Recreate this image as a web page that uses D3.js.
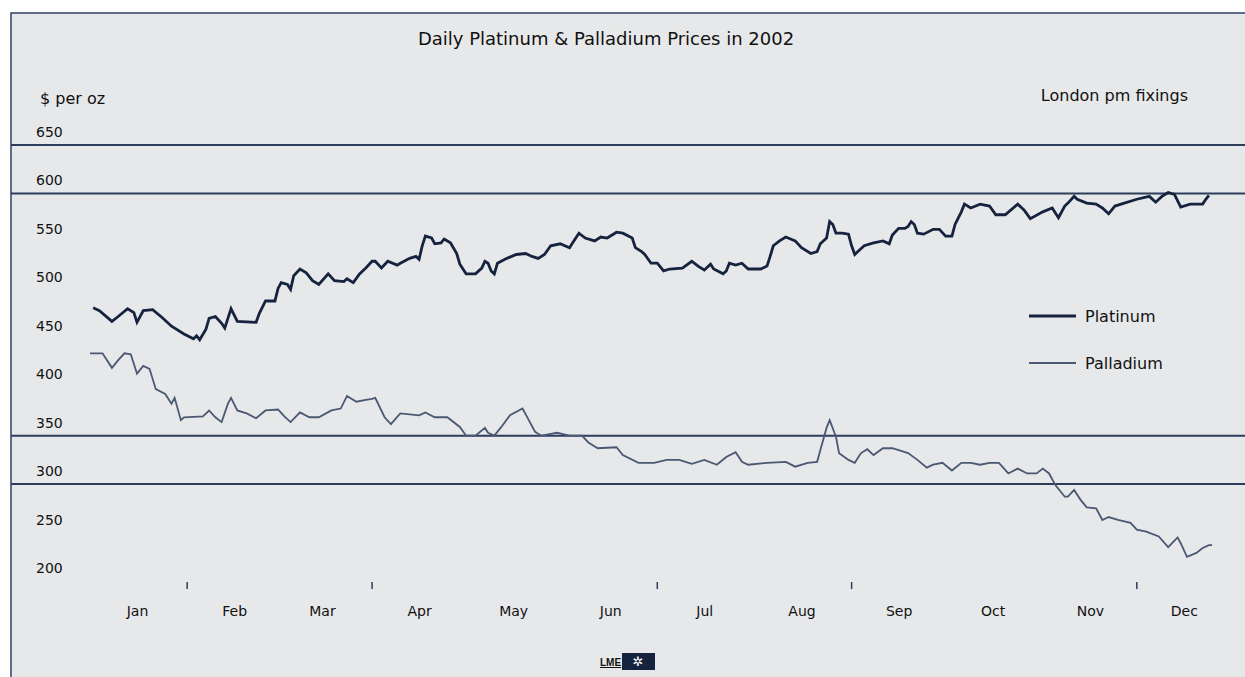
<!DOCTYPE html>
<html>
<head>
<meta charset="utf-8">
<script src="https://cdn.jsdelivr.net/npm/d3@7"></script>
<style>
	body { margin: 0; background: #fff; }
	svg text { font-family: "DejaVu Sans", Arial, sans-serif; fill: #111; }
</style>
</head>
<body>
<div id="chart"></div>
<script>
// values, $ per oz, London pm fixings 2002
var platDates = ['01-02','01-04','01-08','01-10','01-13','01-15','01-16','01-18','01-21','01-24','01-27','01-31',
	'02-03','02-04','02-05','02-07','02-08','02-10','02-12','02-13','02-14','02-15','02-17','02-23','02-24','02-26',
	'03-01','03-02','03-03','03-05','03-06','03-07','03-09','03-11','03-13','03-15','03-18','03-20','03-23','03-24','03-26','03-28','03-30',
	'04-01','04-02','04-04','04-06','04-09','04-10','04-13','04-15','04-16','04-17','04-18','04-20','04-21','04-23','04-24','04-26','04-28','04-29',
	'05-01','05-04','05-06','05-07','05-08','05-09','05-10','05-11','05-14','05-17','05-20','05-22','05-24','05-26','05-28','05-31',
	'06-03','06-04','06-06','06-08','06-11','06-13','06-15','06-18','06-20','06-23','06-24','06-26','06-27','06-29',
	'07-01','07-03','07-05','07-09','07-12','07-14','07-16','07-18','07-19','07-22','07-23','07-24','07-26','07-28','07-30',
	'08-03','08-05','08-06','08-07','08-09','08-11','08-14','08-16','08-19','08-21','08-22','08-24','08-25','08-26','08-27','08-29','08-31',
	'09-01','09-02','09-03','09-05','09-08','09-11','09-13','09-14','09-16','09-18','09-19','09-20','09-21','09-22','09-24','09-27','09-29',
	'10-01','10-03','10-04','10-06','10-07','10-09','10-12','10-15','10-17','10-20','10-24','10-26','10-28',
	'11-01','11-04','11-06','11-08','11-09','11-11','11-12','11-15','11-18','11-20','11-22','11-24','11-27',
	'12-01','12-05','12-07','12-09','12-11','12-13','12-15','12-18','12-22','12-23','12-24'];
var platValues = [482,479,468,473,481,477,467,479,480,472,463,455,
	450,453,449,460,471,473,466,461,471,481,468,467,476,489,
	489,502,508,506,501,515,522,518,510,506,517,510,509,512,508,517,523,
	530,530,523,530,526,528,533,535,532,546,556,554,548,549,553,549,538,527,
	517,517,523,530,528,520,517,528,533,537,538,535,533,537,546,548,
	544,549,559,554,551,555,554,560,559,554,544,540,537,528,
	528,520,522,523,530,525,521,527,522,517,520,528,526,528,522,
	522,525,535,546,551,555,551,544,538,540,548,554,571,568,559,559,558,
	546,537,540,546,549,551,548,557,564,564,566,571,568,559,558,563,563,
	556,556,568,581,589,585,589,587,578,578,589,583,574,
	581,585,575,587,590,597,594,590,589,585,579,587,590,
	594,597,591,597,601,599,586,589,589,594,598];

var pallDates = ['01-01','01-05','01-08','01-10','01-12','01-14','01-16','01-18','01-20','01-22','01-25','01-27','01-28','01-30','01-31',
	'02-06','02-08','02-10','02-12','02-14','02-15','02-17','02-20','02-23','02-26',
	'03-02','03-04','03-06','03-09','03-12','03-15','03-19','03-22','03-24','03-27','03-30',
	'04-01','04-02','04-05','04-07','04-10','04-16','04-18','04-21','04-25','04-29',
	'05-01','05-04','05-07','05-08','05-10','05-12','05-15','05-19','05-21','05-23','05-25','05-30',
	'06-03','06-07','06-09','06-12','06-18','06-20','06-25','06-30',
	'07-04','07-08','07-12','07-16','07-20','07-23','07-26','07-28','07-30',
	'08-05','08-11','08-14','08-18','08-21','08-22','08-24','08-25','08-27','08-28','08-31',
	'09-02','09-04','09-06','09-08','09-11','09-14','09-19','09-22','09-25','09-27','09-30',
	'10-03','10-06','10-09','10-12','10-15','10-18','10-21','10-24','10-27','10-30',
	'11-01','11-03','11-05','11-08','11-09','11-11','11-13','11-15','11-18','11-20','11-22','11-25','11-29',
	'12-01','12-04','12-08','12-11','12-14','12-15','12-17','12-20','12-22','12-24','12-25'];
var pallValues = [435,435,420,428,435,434,414,422,419,398,393,383,389,366,369,
	370,376,369,364,383,389,376,373,368,376,
	377,370,364,374,369,369,376,378,391,385,387,
	388,389,369,362,373,371,374,369,369,359,
	350,350,358,353,350,358,371,378,366,354,350,353,
	350,350,343,337,338,330,322,322,
	325,325,321,325,320,328,333,323,320,
	322,323,318,322,323,335,358,366,349,332,325,
	322,332,336,330,337,337,332,325,317,320,322,
	314,322,322,320,322,322,311,316,311,311,
	316,311,299,287,287,294,284,276,275,263,266,263,260,
	253,251,246,235,245,239,225,229,234,237,237];

var monthNames = ['Jan','Feb','Mar','Apr','May','Jun','Jul','Aug','Sep','Oct','Nov','Dec'];
var tickMonths = ['02-01','04-01','07-01','09-01','12-01'];
var yLabels = [650,600,550,500,450,400,350,300,250,200];
var gridValues = [650,600,350,300];
var seriesNames = ['Platinum','Palladium'];

var W = 1245, H = 677;
var parse = d3.timeParse('%Y-%m-%d');
function toDate(s){ return parse('2002-' + s); }

var x = d3.scaleTime()
	.domain([new Date(2002,0,1), new Date(2003,0,1)])
	.range([90, 1234]);
var y = d3.scaleLinear()
	.domain([200, 650])
	.range([581, 145]);

var svg = d3.select('#chart').append('svg')
	.attr('width', W)
	.attr('height', H);

// frame
svg.append('rect')
	.attr('x', 11).attr('y', 13)
	.attr('width', W).attr('height', H)
	.attr('fill', '#e7e8ea')
	.attr('stroke', '#2f4068')
	.attr('stroke-width', 1.5);

svg.append('text')
	.attr('x', 606).attr('y', 45)
	.attr('text-anchor', 'middle')
	.style('font-size', '18px')
	.text('Daily Platinum & Palladium Prices in 2002');

svg.append('text')
	.attr('x', 40).attr('y', 104)
	.style('font-size', '16px')
	.text('$ per oz');

svg.append('text')
	.attr('x', 1188).attr('y', 101)
	.attr('text-anchor', 'end')
	.style('font-size', '16px')
	.text('London pm fixings');

// only four rules survive in the original
svg.selectAll('line.grid')
	.data(gridValues)
	.enter().append('line')
	.attr('class', 'grid')
	.attr('x1', 11).attr('x2', W)
	.attr('y1', function(d){ return y(d); })
	.attr('y2', function(d){ return y(d); })
	.attr('stroke', '#2d3d5c')
	.attr('stroke-width', 2);

svg.selectAll('text.ylab')
	.data(yLabels)
	.enter().append('text')
	.attr('class', 'ylab')
	.attr('x', 36)
	.attr('y', function(d){ return y(d) - 8; })
	.style('font-size', '14px')
	.text(function(d){ return d; });

// month labels at mid month
var xAxis = d3.axisBottom(x)
	.tickValues(d3.timeMonth.range(new Date(2002,0,1), new Date(2003,0,1)).map(function(m){ return d3.timeDay.offset(m, 15); }))
	.tickSize(0)
	.tickFormat(function(d){ return monthNames[d.getMonth()]; });

var gx = svg.append('g')
	.attr('transform', 'translate(0,603)')
	.call(xAxis);
gx.select('.domain').remove();
gx.selectAll('text')
	.style('font-size', '14px')
	.style('font-family', '"DejaVu Sans", Arial, sans-serif')
	.attr('fill', '#111');

svg.selectAll('line.mtick')
	.data(tickMonths)
	.enter().append('line')
	.attr('class', 'mtick')
	.attr('x1', function(d){ return x(toDate(d)); })
	.attr('x2', function(d){ return x(toDate(d)); })
	.attr('y1', 582).attr('y2', 589)
	.attr('stroke', '#2d3d5c')
	.attr('stroke-width', 1.5);

var line = d3.line()
	.x(function(d){ return x(d.date); })
	.y(function(d){ return y(d.value); });

function series(dates, values){
	return dates.map(function(d, i){ return { date: toDate(d), value: values[i] }; });
}

var styles = [
	{ color: '#16233f', w: 2.8 },
	{ color: '#4a5872', w: 1.8 }
];

svg.append('path')
	.datum(series(pallDates, pallValues))
	.attr('fill', 'none')
	.attr('stroke', styles[1].color)
	.attr('stroke-width', styles[1].w)
	.attr('d', line);

svg.append('path')
	.datum(series(platDates, platValues))
	.attr('fill', 'none')
	.attr('stroke', styles[0].color)
	.attr('stroke-width', styles[0].w)
	.attr('d', line);

// legend
var legend = svg.selectAll('g.legend')
	.data(seriesNames)
	.enter().append('g')
	.attr('class', 'legend')
	.attr('transform', function(d, i){ return 'translate(1029,' + (316 + i * 47) + ')'; });

legend.append('line')
	.attr('x1', 0).attr('x2', 47)
	.attr('stroke', function(d, i){ return styles[i].color; })
	.attr('stroke-width', function(d, i){ return styles[i].w; });

legend.append('text')
	.attr('x', 56).attr('y', 6)
	.style('font-size', '16px')
	.text(function(d){ return d; });

// LME mark at the foot
var logo = svg.append('g').attr('transform', 'translate(600,651)');
logo.append('text')
	.attr('x', 0).attr('y', 15)
	.style('font-family', '"Liberation Sans", Arial, sans-serif')
	.style('font-size', '10px')
	.style('font-weight', 'bold')
	.style('text-decoration', 'underline')
	.text('LME');
logo.append('rect')
	.attr('x', 22).attr('y', 2)
	.attr('width', 33).attr('height', 17)
	.attr('fill', '#16233f');
logo.append('text')
	.attr('x', 38).attr('y', 15)
	.attr('text-anchor', 'middle')
	.style('font-size', '13px')
	.style('fill', '#fff')
	.text('✲');
</script>
</body>
</html>
